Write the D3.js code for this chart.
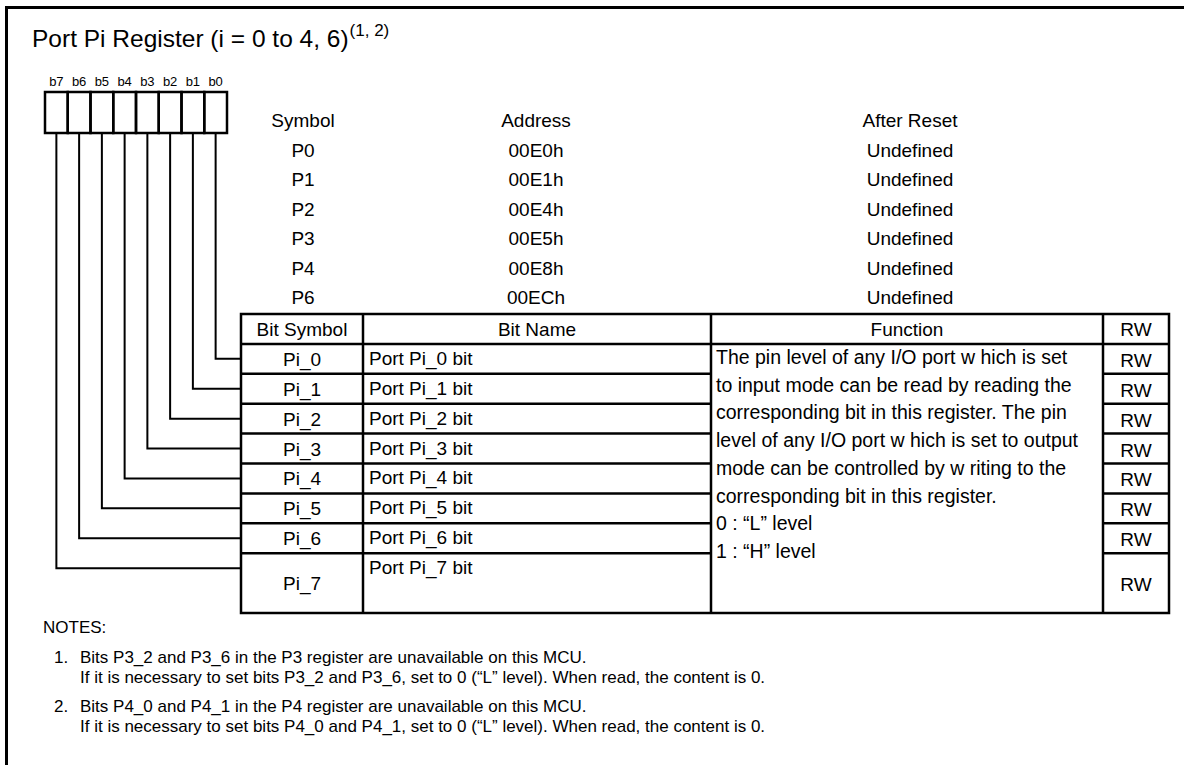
<!DOCTYPE html>
<html>
<head>
<meta charset="utf-8">
<script src="https://cdn.jsdelivr.net/npm/d3@7"></script>
<style>
  body { margin: 0; background: #fff; }
  svg { display: block; font-family: 'Liberation Sans', Arial, sans-serif; }
</style>
</head>
<body>
<svg width="1184" height="765"></svg>
<script>
// Register content.
const TITLE = 'Port Pi Register (i = 0 to 4, 6)';
const TITLE_NOTE_REF = '(1, 2)';
const BIT_LABELS = ['b7', 'b6', 'b5', 'b4', 'b3', 'b2', 'b1', 'b0'];
const REG_HEADERS = ['Symbol', 'Address', 'After Reset'];
const REG_SYMBOLS = ['P0', 'P1', 'P2', 'P3', 'P4', 'P6'];
const REG_ADDRESSES = ['00E0h', '00E1h', '00E4h', '00E5h', '00E8h', '00ECh'];
const REG_RESET = ['Undefined', 'Undefined', 'Undefined', 'Undefined',
  'Undefined', 'Undefined'];
const TABLE_HEADERS = ['Bit Symbol', 'Bit Name', 'Function', 'RW'];
const BIT_SYMBOLS = ['Pi_0', 'Pi_1', 'Pi_2', 'Pi_3', 'Pi_4', 'Pi_5', 'Pi_6',
  'Pi_7'];
const BIT_NAMES = ['Port Pi_0 bit', 'Port Pi_1 bit', 'Port Pi_2 bit',
  'Port Pi_3 bit', 'Port Pi_4 bit', 'Port Pi_5 bit', 'Port Pi_6 bit',
  'Port Pi_7 bit'];
const BIT_RW = ['RW', 'RW', 'RW', 'RW', 'RW', 'RW', 'RW', 'RW'];
const FUNCTION_LINES = [
  'The pin level of any I/O port w hich is set',
  'to input mode can be read by reading the',
  'corresponding bit in this register. The pin',
  'level of any I/O port w hich is set to output',
  'mode can be controlled by w riting to the',
  'corresponding bit in this register.',
  '0 : \u201cL\u201d level',
  '1 : \u201cH\u201d level',
];
const NOTES = [
  ['Bits P3_2 and P3_6 in the P3 register are unavailable on this MCU.',
    'If it is necessary to set bits P3_2 and P3_6, set to 0 (\u201cL\u201d ' +
    'level). When read, the content is 0.'],
  ['Bits P4_0 and P4_1 in the P4 register are unavailable on this MCU.',
    'If it is necessary to set bits P4_0 and P4_1, set to 0 (\u201cL\u201d ' +
    'level). When read, the content is 0.'],
];

// Layout.
const COL_EDGES = [241, 363, 711, 1103, 1169];
const TABLE_TOP = 314;
const TABLE_BOTTOM = 613;
const BOX = {x0: 45, x1: 227, y0: 92, y1: 133};
const TEXT_SIZE = 19;
const NOTE_SIZE = 17;

/**
 * Appends a text element with the shared defaults.
 * @param {*} g The d3 selection to append to.
 * @param {string} str The text.
 * @param {number} x The x position.
 * @param {number} y The baseline.
 * @param {number} size The font size.
 * @param {string=} anchor The text-anchor.
 * @return {*} The new selection.
 */
function addText(g, str, x, y, size, anchor = 'start') {
  return g.append('text')
      .attr('x', x)
      .attr('y', y)
      .attr('font-size', size)
      .attr('text-anchor', anchor)
      .attr('fill', '#000')
      .text(str);
}

function render() {
  const svg = d3.select('svg');

  // Page frame (only top and left edges show in the crop).
  svg.append('path')
      .attr('d', 'M6.5,765 V7.5 H1184')
      .attr('fill', 'none')
      .attr('stroke', '#000')
      .attr('stroke-width', 3);

  const title = addText(svg, TITLE, 32, 47, 24.5);
  title.append('tspan')
      .attr('font-size', 17)
      .attr('dy', -11)
      .attr('dx', 1)
      .text(TITLE_NOTE_REF);

  // Bit boxes b7..b0.
  const xBit = d3.scaleBand().domain(BIT_LABELS).range([BOX.x0, BOX.x1]);
  const bitCenter = b => xBit(b) + xBit.bandwidth() / 2;
  const boxGroup = svg.append('g');
  boxGroup.selectAll('text')
      .data(BIT_LABELS)
      .join('text')
      .attr('x', bitCenter)
      .attr('y', 86)
      .attr('font-size', 13)
      .attr('text-anchor', 'middle')
      .text(d => d);
  boxGroup.selectAll('rect')
      .data(BIT_LABELS)
      .join('rect')
      .attr('x', d => xBit(d))
      .attr('y', BOX.y0)
      .attr('width', xBit.bandwidth())
      .attr('height', BOX.y1 - BOX.y0)
      .attr('fill', 'none')
      .attr('stroke', '#000')
      .attr('stroke-width', 2.5);

  // Symbol / Address / After Reset listing.
  const yReg = d3.scaleLinear().domain([0, REG_SYMBOLS.length])
      .range([120, 297]);
  const xReg = d3.scaleOrdinal().domain(REG_HEADERS).range([303, 536, 910]);
  const regGroup = svg.append('g')
      .attr('font-size', TEXT_SIZE)
      .attr('text-anchor', 'middle');
  const regColumns = [REG_SYMBOLS, REG_ADDRESSES, REG_RESET];
  REG_HEADERS.forEach((h, c) => {
    const col = [h].concat(regColumns[c]);
    regGroup.selectAll(null)
        .data(col)
        .join('text')
        .attr('x', xReg(h))
        .attr('y', (d, i) => yReg(i) + 7)
        .text(d => d);
  });

  // Bit table. Rows are in units: header 0-1, Pi_0..Pi_6 one unit each,
  // Pi_7 two units.
  const yRow = d3.scaleLinear().domain([0, 10]).range([TABLE_TOP, TABLE_BOTTOM]);
  const rowTop = i => i + 1;
  const rowSpan = i => (i === BIT_SYMBOLS.length - 1 ? 2 : 1);
  const table = svg.append('g');
  const lines = table.append('g')
      .attr('stroke', '#000')
      .attr('stroke-width', 2.5)
      .attr('fill', 'none');
  lines.append('rect')
      .attr('x', COL_EDGES[0])
      .attr('y', TABLE_TOP)
      .attr('width', COL_EDGES[4] - COL_EDGES[0])
      .attr('height', TABLE_BOTTOM - TABLE_TOP);
  lines.selectAll('line.col')
      .data(COL_EDGES.slice(1, 4))
      .join('line')
      .attr('x1', d => d).attr('x2', d => d)
      .attr('y1', TABLE_TOP).attr('y2', TABLE_BOTTOM);
  lines.append('line')
      .attr('x1', COL_EDGES[0]).attr('x2', COL_EDGES[4])
      .attr('y1', yRow(1)).attr('y2', yRow(1));
  // Row separators, except inside the merged Function cell.
  const seps = d3.range(1, BIT_SYMBOLS.length).map(i => yRow(rowTop(i)));
  [[COL_EDGES[0], COL_EDGES[2]], [COL_EDGES[3], COL_EDGES[4]]].forEach(
      ([xa, xb]) => {
        lines.selectAll(null)
            .data(seps)
            .join('line')
            .attr('x1', xa).attr('x2', xb)
            .attr('y1', d => d).attr('y2', d => d);
      });

  const cells = table.append('g').attr('font-size', TEXT_SIZE);
  const colMid = c => (COL_EDGES[c] + COL_EDGES[c + 1]) / 2;
  TABLE_HEADERS.forEach((h, c) => {
    addText(cells, h, colMid(c), yRow(0.5) + 7, TEXT_SIZE, 'middle');
  });
  cells.selectAll(null)
      .data(BIT_SYMBOLS)
      .join('text')
      .attr('x', colMid(0))
      .attr('y', (d, i) => yRow(rowTop(i) + rowSpan(i) / 2) + 7)
      .attr('text-anchor', 'middle')
      .text(d => d);
  cells.selectAll(null)
      .data(BIT_NAMES)
      .join('text')
      .attr('x', COL_EDGES[1] + 6)
      .attr('y', (d, i) => yRow(rowTop(i) + 0.5) + 6)
      .text(d => d);
  cells.selectAll(null)
      .data(BIT_RW)
      .join('text')
      .attr('x', colMid(3))
      .attr('y', (d, i) => yRow(rowTop(i) + rowSpan(i) / 2) + 8)
      .attr('text-anchor', 'middle')
      .text(d => d);
  cells.selectAll(null)
      .data(FUNCTION_LINES)
      .join('text')
      .attr('x', COL_EDGES[2] + 5)
      .attr('y', (d, i) => 364 + i * 27.7)
      .attr('font-size', 19.5)
      .text(d => d);

  // Connectors from each bit box down to its table row.
  svg.append('g')
      .attr('stroke', '#000')
      .attr('stroke-width', 2)
      .attr('fill', 'none')
      .selectAll('path')
      .data(BIT_SYMBOLS)
      .join('path')
      .attr('d', (d, i) => {
        const x = bitCenter('b' + i);
        const y = yRow(rowTop(i) + 0.5);
        return `M${x},${BOX.y1} V${y} H${COL_EDGES[0]}`;
      });

  // Notes.
  const notes = svg.append('g');
  addText(notes, 'NOTES:', 43, 633, NOTE_SIZE);
  NOTES.forEach((note, n) => {
    const y0 = 663 + n * 49;
    addText(notes, `${n + 1}.`, 54, y0, NOTE_SIZE);
    note.forEach((line, k) => addText(notes, line, 80, y0 + k * 20, NOTE_SIZE));
  });
}

document.addEventListener('DOMContentLoaded', render);
</script>
</body>
</html>
